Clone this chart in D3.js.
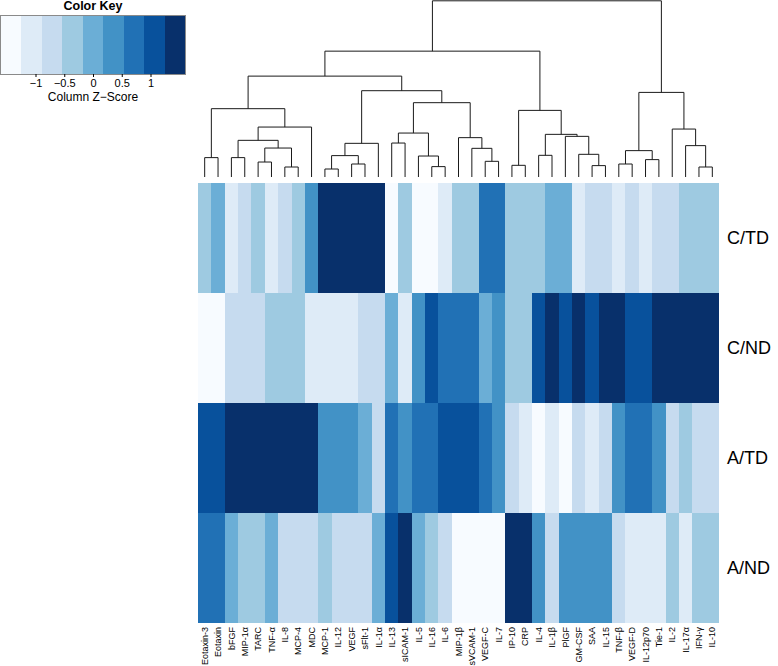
<!DOCTYPE html>
<html>
<head>
<meta charset="utf-8">
<script src="https://cdn.jsdelivr.net/npm/d3@7"></script>
<style>
  body { margin: 0; background: #fff; }
  svg { display: block; font-family: "Liberation Sans", Arial, sans-serif; }
</style>
</head>
<body>
<svg id="heatmap"></svg>
<script>
const cytokines = ['Eotaxin-3', 'Eotaxin', 'bFGF', 'MIP-1α', 'TARC', 'TNF-α', 'IL-8', 'MCP-4', 'MDC',
  'MCP-1', 'IL-12', 'VEGF', 'sFlt-1', 'IL-1α', 'IL-13', 'sICAM-1', 'IL-5', 'IL-16', 'IL-6',
  'MIP-1β', 'sVCAM-1', 'VEGF-C', 'IL-7', 'IP-10', 'CRP', 'IL-4', 'IL-1β', 'PlGF', 'GM-CSF',
  'SAA', 'IL-15', 'TNF-β', 'VEGF-D', 'IL-12p70', 'Tie-1', 'IL-2', 'IL-17α', 'IFN-γ', 'IL-10'];

const groups = ['C/TD', 'C/ND', 'A/TD', 'A/ND'];

// column z-scores, one array per group
const z_CTD = [-0.35, 0, -1.05, -0.7, -0.35, -1.05, -0.7, -0.35, 0.35, 1.4, 1.4, 1.4, 1.4, 1.4, -1.4, -0.35,
  -1.4, -1.4, -1.05, -0.35, -0.35, 0.7, 0.7, -0.35, -0.35, -0.35, 0, 0, -1.05, -0.7, -0.7, -1.05, -0.7,
  -1.05, -0.7, -0.7, -0.35, -0.35, -0.35];
const z_CND = [-1.4, -1.4, -0.7, -0.7, -0.7, -0.35, -0.35, -0.35, -1.05, -1.05, -1.05, -1.05, -0.7, -0.7, 0,
  -1.05, 0.35, 1.05, 0.7, 0.7, 0.7, 0, 0.35, -0.35, -0.35, 1.05, 1.4, 1.05, 1.4, 1.05, 1.4, 1.4, 1.05,
  1.05, 1.4, 1.4, 1.4, 1.4, 1.4];
const z_ATD = [1.05, 1.05, 1.4, 1.4, 1.4, 1.4, 1.4, 1.4, 1.4, 0.35, 0.35, 0.35, 0, -0.7, 0.7, 0.35, 0.7,
  0.7, 1.05, 1.05, 1.05, 0.7, 0.35, -0.7, -1.05, -1.4, -1.05, -1.4, -0.7, -1.05, -0.7, 0.35, 0.7, 0.7,
  0.35, -0.7, -0.35, -0.7, -0.7];
const z_AND = [0.7, 0.7, 0, -0.35, -0.35, 0, -0.7, -0.7, -0.7, -0.35, -0.7, -0.7, -0.7, 0, 1.05, 1.4, 0,
  -0.35, -0.7, -1.4, -1.4, -1.4, -1.4, 1.4, 1.4, 0.35, -0.7, 0.35, 0.35, 0.35, 0.35, -0.7, -1.05, -1.05,
  -1.05, -0.35, -1.05, -0.35, -0.35];

const keyTicks = [-1, -0.5, 0, 0.5, 1];
const zRange = [-1.6, 1.6];

// column dendrogram, hclust style: negative = leaf -(i+1), positive = earlier merge row (1-based)
const merges = [
  [-1, -2, 19.4], [-3, -4, 19.4], [-5, -6, 15], [-7, -8, 10], [3, 4, 29], [2, 5, 36.7], [6, -9, 50],
  [1, 7, 68.4], [-10, -11, 8], [-12, -13, 13], [9, 10, 21.4], [11, -14, 33.7], [-15, -16, 34],
  [-18, -19, 10.4], [-17, 14, 21], [13, 15, 44], [-22, -23, 15.7], [-21, 17, 28.7], [-20, 18, 39.4],
  [16, 19, 74.4], [12, 20, 86.4], [8, 21, 101], [-24, -25, 11.7], [-26, -27, 21.7], [-30, -31, 11.4],
  [-29, 25, 22.7], [-28, 26, 40.7], [24, 27, 42.7], [23, 28, 66.7], [22, 29, 126], [-32, -33, 13],
  [-34, -35, 17.4], [31, 32, 26.4], [-38, -39, 10], [-37, 34, 31.4], [-36, 35, 48], [33, 36, 84.7],
  [30, 37, 176.4]
];

const rows = [z_CTD, z_CND, z_ATD, z_AND];

const svg = d3.select('#heatmap')
  .attr('width', 778)
  .attr('height', 666);

const color = d3.scaleQuantize()
  .domain(zRange)
  .range(d3.schemeBlues[9]);

const x = d3.scaleBand()
  .domain(cytokines)
  .range([198, 719]);

const y = d3.scaleBand()
  .domain(groups)
  .range([183, 623]);

// cells
groups.forEach((g, i) => {
  svg.append('g')
    .selectAll('rect')
    .data(rows[i])
    .enter()
    .append('rect')
    .attr('x', (d, j) => x(cytokines[j]))
    .attr('y', y(g))
    .attr('width', x.bandwidth() + 0.3)
    .attr('height', y.bandwidth() + 0.3)
    .attr('shape-rendering', 'crispEdges')
    .style('fill', d => color(d));
});

// row labels
svg.append('g')
  .selectAll('text')
  .data(groups)
  .enter()
  .append('text')
  .attr('x', 727)
  .attr('y', d => y(d) + y.bandwidth() / 2)
  .attr('dy', '0.35em')
  .style('font-size', '18px')
  .text(d => d);

// column labels
svg.append('g')
  .selectAll('text')
  .data(cytokines)
  .enter()
  .append('text')
  .attr('transform', d => `translate(${x(d) + x.bandwidth() / 2}, 627) rotate(-90)`)
  .attr('dy', '0.35em')
  .attr('text-anchor', 'end')
  .style('font-size', '9px')
  .text(d => d);

// dendrogram
const hy = d3.scaleLinear()
  .domain([0, d3.max(merges, m => m[2])])
  .range([177, 0.8]);

const nodes = [];
const pos = c => c < 0
  ? { x: x(cytokines[-c - 1]) + x.bandwidth() / 2, y: hy(0) }
  : nodes[c - 1];

const dend = svg.append('g')
  .attr('fill', 'none')
  .attr('stroke', '#1a1a1a')
  .attr('stroke-width', 1);

merges.forEach(m => {
  const a = pos(m[0]);
  const b = pos(m[1]);
  const node = { x: (a.x + b.x) / 2, y: hy(m[2]) };
  nodes.push(node);
  dend.append('path')
    .attr('d', `M${a.x},${a.y}V${node.y}H${b.x}V${b.y}`);
});

// color key
const kx = d3.scaleLinear().domain(zRange).range([1, 185]);
const keyTop = 16, keyH = 58;

svg.append('g')
  .selectAll('rect')
  .data(color.range())
  .enter()
  .append('rect')
  .attr('x', d => kx(color.invertExtent(d)[0]))
  .attr('y', keyTop)
  .attr('width', d => kx(color.invertExtent(d)[1]) - kx(color.invertExtent(d)[0]) + 0.3)
  .attr('height', keyH)
  .attr('shape-rendering', 'crispEdges')
  .style('fill', d => d);

svg.append('rect')
  .attr('x', 0.5)
  .attr('y', keyTop - 0.5)
  .attr('width', 185)
  .attr('height', keyH + 1)
  .attr('fill', 'none')
  .attr('stroke', '#8a8a8a');

const keyAxis = d3.axisBottom(kx)
  .tickValues(keyTicks)
  .tickSize(3)
  .tickPadding(2)
  .tickFormat(d => d3.format('')(d).replace('-', '−'));

svg.append('g')
  .attr('transform', `translate(0, ${keyTop + keyH})`)
  .call(keyAxis)
  .call(g => g.select('.domain').remove())
  .style('font-size', '11px')
  .style('font-family', '"Liberation Sans", Arial, sans-serif');

svg.append('text')
  .attr('x', 93)
  .attr('y', 101)
  .attr('text-anchor', 'middle')
  .style('font-size', '12px')
  .text('Column Z−Score');

svg.append('text')
  .attr('x', 93)
  .attr('y', 10)
  .attr('text-anchor', 'middle')
  .style('font-size', '12.5px')
  .style('font-weight', 'bold')
  .text('Color Key');
</script>
</body>
</html>
